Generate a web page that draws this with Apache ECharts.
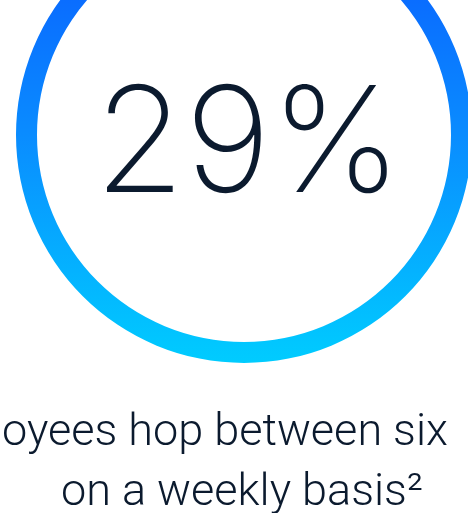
<!DOCTYPE html>
<html>
<head>
<meta charset="utf-8">
<script src="https://cdn.jsdelivr.net/npm/echarts@6/dist/echarts.min.js"></script>
<style>html,body{margin:0;padding:0;background:#fff;}#c{width:468px;height:513px;}</style>
</head>
<body>
<div id="c"></div>
<script>
const gaugeValues = [29];
const valueSuffix = ['%'];
const captionLines = ['oyees hop between six', 'on a weekly basis\u00B2'];

const chart = echarts.init(document.getElementById('c'), null, {renderer: 'canvas'});
const ringGradient = new echarts.graphic.LinearGradient(0, 0, 0, 1, [
  {offset: 0, color: '#0a58ff'},
  {offset: 0.5, color: '#0a8cff'},
  {offset: 1, color: '#00ccff'}
]);
chart.setOption({
  backgroundColor: '#ffffff',
  series: [{
    type: 'gauge',
    center: [244, 135],
    radius: 228,
    startAngle: 90,
    endAngle: -270,
    min: 0,
    max: 100,
    pointer: {show: false},
    progress: {show: false},
    axisTick: {show: false},
    splitLine: {show: false},
    axisLabel: {show: false},
    anchor: {show: false},
    title: {show: false},
    axisLine: {lineStyle: {width: 21, color: [[1, ringGradient]]}},
    detail: {
      valueAnimation: false,
      offsetCenter: [4, 13],
      formatter: function (v) { return v + valueSuffix[0]; },
      fontFamily: 'Inter',
      fontWeight: 200,
      fontSize: 147,
      color: '#0b1a2e'
    },
    data: gaugeValues.map(v => ({value: v}))
  }],
  graphic: [
    {type: 'text', left: 2, top: 411, style: {text: captionLines[0], font: '300 45px Roboto', fill: '#0b1a2e'}},
    {type: 'text', left: 61, top: 471, style: {text: captionLines[1], font: '300 45px Roboto', fill: '#0b1a2e'}}
  ]
});
</script>
</body>
</html>
